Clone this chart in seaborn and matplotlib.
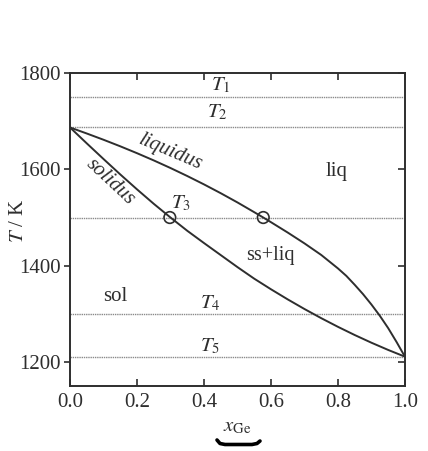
import matplotlib
matplotlib.use("Agg")
import matplotlib.pyplot as plt
import seaborn as sns
import pandas as pd
from matplotlib.lines import Line2D

# Si-Ge binary phase diagram: liquidus and solidus curves
liquidus_x = [0.0, 0.05, 0.1, 0.15, 0.2, 0.25, 0.3, 0.35, 0.4, 0.45, 0.5, 0.55,
              0.577, 0.6, 0.65, 0.7, 0.75, 0.8, 0.825, 0.85, 0.875, 0.9, 0.925,
              0.95, 0.975, 1.0]
liquidus_T = [1687, 1674.5, 1661.5, 1647.9, 1633.6, 1618.6, 1602.8, 1586.2, 1568.8,
              1550.5, 1531.3, 1511.1, 1500, 1490.3, 1468.8, 1446.3, 1422.3, 1394.3,
              1378.8, 1360.3, 1340.8, 1319.3, 1296, 1270.3, 1241.5, 1211]

solidus_x = [0.0, 0.05, 0.1, 0.15, 0.2, 0.25, 0.3, 0.35, 0.4, 0.45, 0.5, 0.55,
             0.6, 0.65, 0.7, 0.75, 0.8, 0.85, 0.9, 0.95, 1.0]
solidus_T = [1687, 1654, 1621.5, 1589.5, 1558.5, 1528.5, 1500, 1472.5, 1447, 1422,
             1397, 1373, 1351, 1330, 1310, 1291, 1273, 1256, 1240, 1225, 1211]

# isotherms T1..T5
iso_names = ["1", "2", "3", "4", "5"]
iso_T = [1750, 1687, 1500, 1300, 1211]

# tie-line end points at T3
tie_x = [0.298, 0.577]
tie_T = [1500, 1500]

x_ticks = [0.0, 0.2, 0.4, 0.6, 0.8, 1.0]
x_ticklabels = ["0.0", "0.2", "0.4", "0.6", "0.8", "1.0"]
y_ticks = [1200, 1400, 1600, 1800]
y_ticklabels = ["1200", "1400", "1600", "1800"]

sns.set_theme(style="ticks")
plt.rcParams["font.family"] = ["Liberation Serif", "DejaVu Serif"]
plt.rcParams["mathtext.fontset"] = "stix"

ink = "#2e2e2e"

fig = plt.figure(figsize=(4.28, 4.51), dpi=100)
ax = fig.add_axes([0.1636, 0.144, 0.7825, 0.694])

for t in iso_T:
    ax.axhline(t, color="#8a8a8a", lw=1.0, ls=(0, (1, 0.6)), zorder=1)

liq = pd.DataFrame({"x": liquidus_x, "T": liquidus_T})
sol = pd.DataFrame({"x": solidus_x, "T": solidus_T})
sns.lineplot(data=liq, x="x", y="T", ax=ax, color=ink, lw=1.4, sort=False, zorder=3)
sns.lineplot(data=sol, x="x", y="T", ax=ax, color=ink, lw=1.4, sort=False, zorder=3)
sns.scatterplot(x=tie_x, y=tie_T, ax=ax, s=70, facecolor="none",
                edgecolor=ink, linewidth=1.2, zorder=4)

ax.set_xlim(0, 1)
ax.set_ylim(1150, 1800)
ax.set_xticks(x_ticks)
ax.set_xticklabels(x_ticklabels)
ax.set_yticks(y_ticks)
ax.set_yticklabels(y_ticklabels)

ax.tick_params(axis="x", direction="in", top=True, length=5, width=1.2,
               labelsize=15, colors=ink, pad=5)
ax.tick_params(axis="y", direction="out", right=False, length=4, width=1.2,
               labelsize=15, colors=ink, pad=3)
sec = ax.secondary_yaxis("right")
sec.set_yticks(y_ticks)
sec.tick_params(direction="in", length=5, width=1.2, labelright=False, colors=ink)
sec.spines["right"].set_visible(False)

for s in ax.spines.values():
    s.set_color(ink)
    s.set_linewidth(1.4)

ax.set_xlabel(r"$x_{\mathrm{Ge}}$", fontsize=15, color=ink, labelpad=4)
ax.set_ylabel(r"$T$ / K", fontsize=15, color=ink)
ax.yaxis.set_label_coords(-0.125, 0.53)

# isotherm labels
iso_label_pos = [(0.45, 1775), (0.44, 1718), (0.33, 1530), (0.418, 1322), (0.418, 1233)]
for name, (lx, ly) in zip(iso_names, iso_label_pos):
    ax.text(lx, ly, rf"$T_{name}$", fontsize=15, color=ink, ha="center", va="center")

# region and curve labels
ax.text(0.797, 1595, "liq", fontsize=15, color=ink, ha="center", va="center")
ax.text(0.134, 1337, "sol", fontsize=15, color=ink, ha="center", va="center")
ax.text(0.597, 1422, "ss+liq", fontsize=14.5, color=ink, ha="center", va="center")
ax.text(0.30, 1636, "liquidus", fontsize=15, color=ink, ha="center", va="center",
        rotation=-23, style="italic")
ax.text(0.12, 1573, "solidus", fontsize=15, color=ink, ha="center", va="center",
        rotation=-43, style="italic")

# small brace under the axis label
W, H = 428, 451
bx = [217, 220, 225, 252, 257, 260]
by = [440, 443.5, 444.5, 444.5, 443.5, 441]
fig.add_artist(Line2D([v / W for v in bx], [1 - v / H for v in by],
                      color="black", lw=2.6, solid_capstyle="round"))

fig.savefig("out.png", dpi=100)
